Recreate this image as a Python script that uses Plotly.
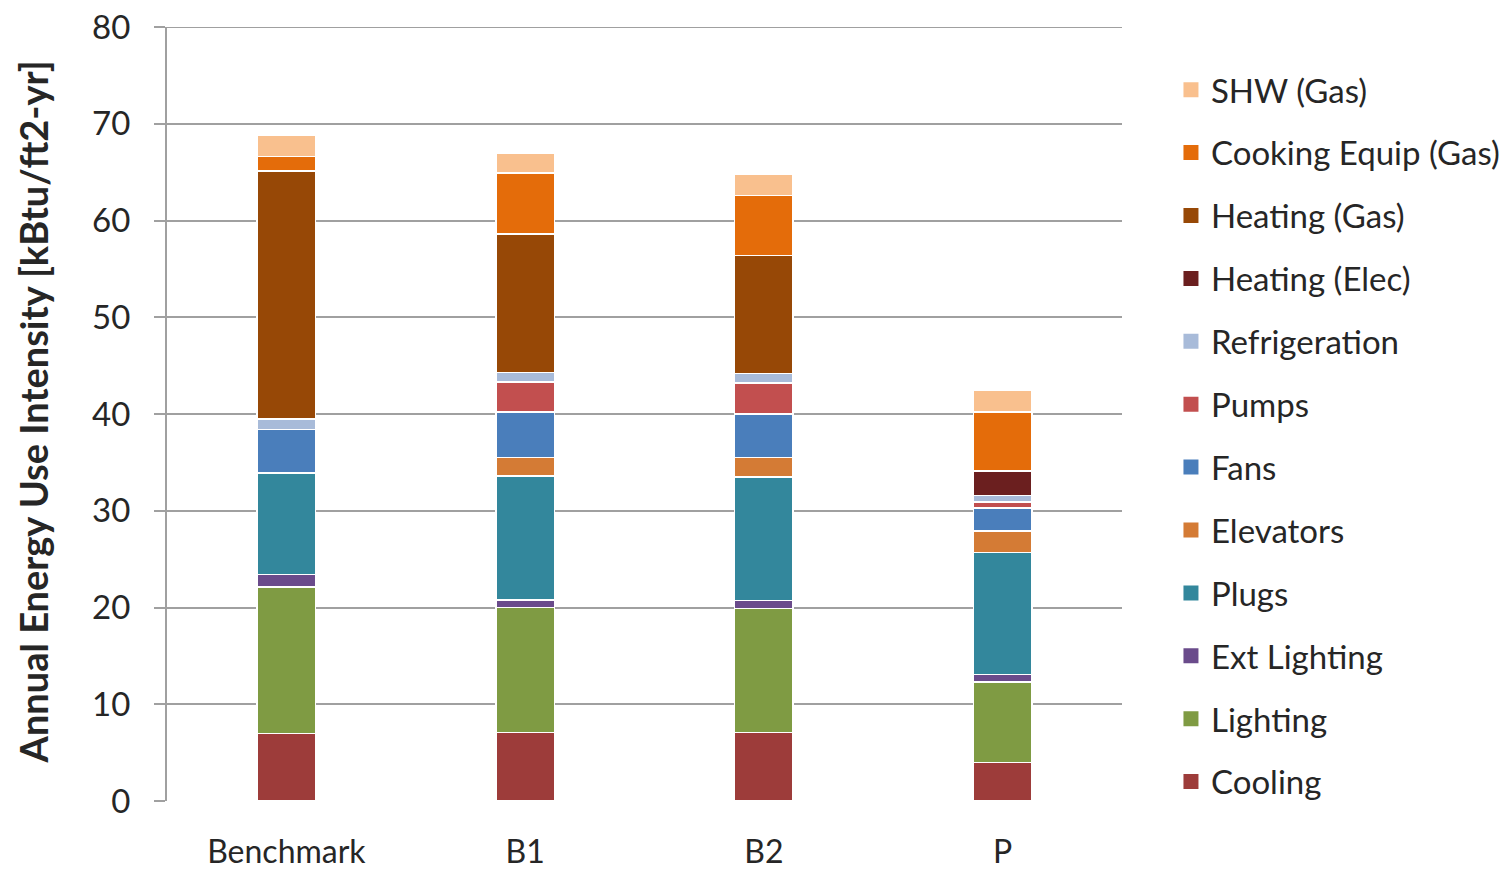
import plotly.graph_objects as go

# Building scenarios on the x axis
scenarios = ["Benchmark", "B1", "B2", "P"]

# End-use intensities per scenario, kBtu/ft2-yr (bottom of the stack first)
cooling = [7.0, 7.1, 7.1, 4.0]
lighting = [15.1, 12.9, 12.8, 8.3]
ext_lighting = [1.3, 0.8, 0.8, 0.8]
plugs = [10.5, 12.8, 12.8, 12.6]
elevators = [0.0, 1.9, 2.0, 2.2]
fans = [4.5, 4.7, 4.5, 2.4]
pumps = [0.0, 3.1, 3.2, 0.6]
refrigeration = [1.1, 1.0, 1.0, 0.7]
heating_elec = [0.0, 0.0, 0.0, 2.5]
heating_gas = [25.6, 14.3, 12.2, 0.0]
cooking_gas = [1.5, 6.3, 6.2, 6.1]
shw_gas = [2.2, 2.1, 2.2, 2.3]

series = [
    ("Cooling", cooling, "#9d3c3a"),
    ("Lighting", lighting, "#7f9b43"),
    ("Ext Lighting", ext_lighting, "#6a4b8b"),
    ("Plugs", plugs, "#33879c"),
    ("Elevators", elevators, "#d47b35"),
    ("Fans", fans, "#4a7ebb"),
    ("Pumps", pumps, "#c24f4f"),
    ("Refrigeration", refrigeration, "#a8bbd9"),
    ("Heating (Elec)", heating_elec, "#6b1f1f"),
    ("Heating (Gas)", heating_gas, "#974806"),
    ("Cooking Equip (Gas)", cooking_gas, "#e46c0a"),
    ("SHW (Gas)", shw_gas, "#f9c08e"),
]

FONT = "Lato"
TEXT = "#262626"
GRID = "#a0a0a0"

fig = go.Figure()
n = len(series)
for i, (name, vals, color) in enumerate(series):
    # stacked segment
    fig.add_trace(go.Bar(
        x=scenarios,
        y=vals,
        name=name,
        showlegend=False,
        marker=dict(color=color, line=dict(color="white", width=1.5)),
    ))
    # square legend key, top of the stack listed first
    fig.add_trace(go.Scatter(
        x=[None],
        y=[None],
        mode="markers",
        name=name,
        legendgroup=name,
        legendrank=n - i,
        marker=dict(symbol="square", size=15, color=color),
    ))

fig.update_layout(
    barmode="stack",
    bargap=0.755,
    width=1508,
    height=870,
    margin=dict(l=167, r=386, t=27, b=69),
    paper_bgcolor="white",
    plot_bgcolor="white",
    font=dict(family=FONT, color=TEXT, size=31),
    showlegend=True,
    legend=dict(
        traceorder="grouped",
        tracegroupgap=17,
        itemsizing="trace",
        xref="container",
        yref="container",
        x=0.7765,
        xanchor="left",
        y=0.929,
        yanchor="top",
        maxheight=860,
        font=dict(family=FONT, size=33, color=TEXT),
        itemwidth=30,
    ),
    xaxis=dict(
        showgrid=False,
        showline=False,
        ticks="",
        automargin=False,
        tickfont=dict(family=FONT, size=32, color=TEXT),
        ticklabelstandoff=29,
    ),
    yaxis=dict(
        range=[0, 80],
        dtick=10,
        showgrid=True,
        gridcolor=GRID,
        gridwidth=2,
        showline=True,
        linecolor=GRID,
        linewidth=2,
        ticks="outside",
        ticklen=11,
        tickwidth=2,
        tickcolor=GRID,
        ticklabelstandoff=17,
        ticklabeloverflow="allow",
        automargin=False,
        tickfont=dict(family=FONT, size=33, color=TEXT),
        zeroline=False,
    ),
    annotations=[
        # y-axis title
        dict(
            text="<b>Annual Energy Use Intensity [kBtu/ft2-yr]</b>",
            xref="paper", yref="paper",
            x=-0.1403, y=0.502,
            xanchor="center", yanchor="middle",
            textangle=-90,
            showarrow=False,
            font=dict(family=FONT, size=38, color=TEXT),
        ),
    ],
    shapes=[
        # top gridline at the upper edge of the value range
        dict(type="line", xref="paper", yref="y", x0=-0.012, x1=1, y0=80, y1=80,
             line=dict(color=GRID, width=2), layer="below"),
    ],
)

fig.write_html("out.html")
